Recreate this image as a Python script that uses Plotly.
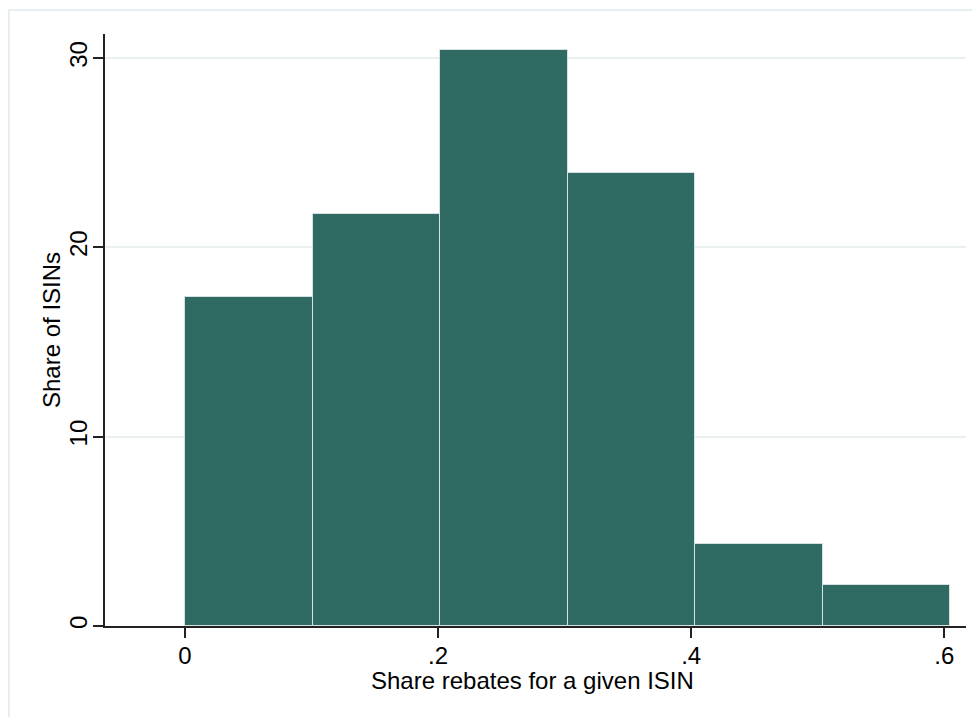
import plotly.graph_objects as go

# Data
bin_edges = [0.0, 0.1008, 0.2016, 0.3024, 0.4032, 0.5040, 0.6048]
share_isins = [17.40, 21.75, 30.45, 23.91, 4.35, 2.15]
x_tick_vals = [0, 0.2, 0.4, 0.6]
x_tick_text = ["0", ".2", ".4", ".6"]
y_tick_vals = [0, 10, 20, 30]
y_tick_text = ["0", "10", "20", "30"]
x_title = "Share rebates for a given ISIN"
y_title = "Share of ISINs"

centers = [(a + b) / 2 for a, b in zip(bin_edges[:-1], bin_edges[1:])]
widths = [b - a for a, b in zip(bin_edges[:-1], bin_edges[1:])]

FONT = "Liberation Sans, Arial, sans-serif"

fig = go.Figure()
fig.add_trace(go.Bar(
    x=centers, y=share_isins, width=widths,
    marker=dict(color="#2f6b63", line=dict(color="#d5e2e0", width=1)),
    hoverinfo="skip",
))

# the page adds an 8px body margin, so margins are offset by 8px
fig.update_layout(
    width=980, height=717,
    margin=dict(l=97, r=22, t=26, b=99),
    paper_bgcolor="white", plot_bgcolor="white",
    showlegend=False, bargap=0,
    font=dict(family=FONT, color="black"),
    shapes=[dict(type="rect", xref="paper", yref="paper",
                 x0=-0.1115, x1=1.2, y0=-0.3, y1=1.0405,
                 line=dict(color="#e6eef1", width=2), layer="below")],
    annotations=[
        dict(text=x_title, xref="paper", yref="paper", x=0.497, y=-0.0929,
             xanchor="center", yanchor="middle", showarrow=False,
             font=dict(size=24, family=FONT, color="black")),
        dict(text=y_title, xref="paper", yref="paper", x=-0.0627, y=0.5,
             xanchor="center", yanchor="middle", showarrow=False, textangle=-90,
             font=dict(size=24, family=FONT, color="black")),
    ],
)

fig.update_xaxes(
    range=[-0.0632, 0.6172],
    tickvals=x_tick_vals, ticktext=x_tick_text,
    ticks="outside", ticklen=10, tickwidth=1.5, tickcolor="#222",
    showline=True, linecolor="#222", linewidth=1.5,
    showgrid=False, zeroline=False, ticklabelstandoff=-3,
    tickfont=dict(size=24, family=FONT, color="black"),
)
fig.update_yaxes(
    range=[0, 31.27],
    tickvals=y_tick_vals, ticktext=y_tick_text, tickangle=-90,
    ticks="outside", ticklen=10, tickwidth=1.5, tickcolor="#222",
    showline=True, linecolor="#222", linewidth=1.5,
    showgrid=True, gridcolor="#e8f0f2", gridwidth=1.5, zeroline=False,
    ticklabelstandoff=-3,
    tickfont=dict(size=24, family=FONT, color="black"),
)

fig.write_html("out.html")
